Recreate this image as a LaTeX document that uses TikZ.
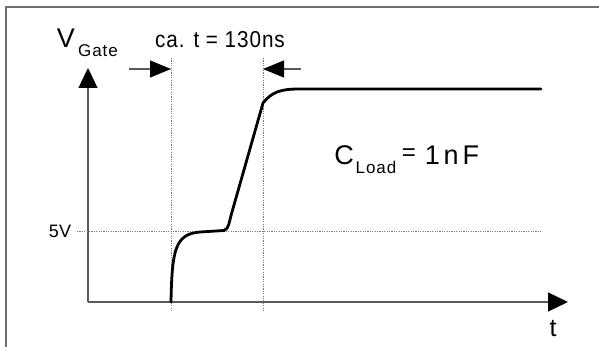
\documentclass[tikz,border=0pt]{standalone}
\usepackage{fontspec}
\setmainfont{Liberation Sans}
\usetikzlibrary{arrows.meta}
\definecolor{framegray}{RGB}{110,110,110}
\definecolor{axisgray}{RGB}{90,90,90}
\definecolor{dotgray}{RGB}{120,120,120}
\newcommand{\fs}[1]{\fontsize{#1}{#1}\selectfont}
\tikzset{
  frameline/.style={draw=framegray, line width=1.3pt},
  axisline/.style={draw=axisgray, line width=1.2pt, -{Triangle[length=20pt,width=19pt,color=black]}},
  dimarrow/.style={draw=axisgray, line width=1.1pt, -{Triangle[length=21pt,width=17pt,color=black]}},
  guide/.style={draw=dotgray, line width=0.9pt, dash pattern=on 1.2pt off 1.2pt},
  signal/.style={draw=black, line width=2.8pt, line join=round, line cap=round},
  lbl/.style={inner sep=0pt, anchor=center, text=black},
}
\begin{document}
\begin{tikzpicture}[x=1pt,y=-1pt]
\useasboundingbox (0,0) rectangle (599,347);
% frame
\coordinate (fbl) at (6,347);
\coordinate (ftl) at (6,7);
\coordinate (ftr) at (599,7);
\draw[frameline] (fbl) -- (ftl) -- (ftr);
% axes
\coordinate (O) at (88,302);
\coordinate (ytip) at (88,68);
\coordinate (xtip) at (568,302);
\draw[axisline] (O) -- (ytip);
\draw[axisline] (O) -- (xtip);
% guides
\coordinate (g1t) at (171,58);
\coordinate (g1b) at (171,311);
\coordinate (g2t) at (263,58);
\coordinate (g2b) at (263,311);
\coordinate (hl) at (77,231);
\coordinate (hr) at (541,231);
\draw[guide] (g1t) -- (g1b);
\draw[guide] (g2t) -- (g2b);
\draw[guide] (hl) -- (hr);
% dimension arrows
\coordinate (d1s) at (129,69);
\coordinate (d1e) at (171,69);
\coordinate (d2s) at (301,69);
\coordinate (d2e) at (263,69);
\draw[dimarrow] (d1s) -- (d1e);
\draw[dimarrow] (d2s) -- (d2e);
% signal
\coordinate (s0) at (171,302);
\coordinate (s1) at (200,232);
\coordinate (s2) at (224,230.5);
\coordinate (s3) at (232,212);
\coordinate (s4) at (263,103);
\coordinate (s5) at (300,89);
\coordinate (s6) at (541,89);
\draw[signal] (s0) .. controls (172,250) and (175,234) .. (s1) -- (s2)
  .. controls (229,229) and (229,222) .. (s3) -- (s4)
  .. controls (272,92) and (280,89) .. (s5) -- (s6);
% labels
\node[lbl] (V) at (66,38) {\fs{27}V};
\node[lbl] (gate) at (98,51) {\fs{17}\addfontfeatures{LetterSpace=6}Gate};
\node[lbl] (dur) at (220,40) {\fs{23}\addfontfeatures{FakeStretch=0.9,LetterSpace=4}ca. t = 130ns};
\node[lbl] (C) at (344,155) {\fs{27}C};
\node[lbl] (load) at (376,167) {\fs{17}\addfontfeatures{LetterSpace=6}Load};
\node[lbl] (eq) at (409,155) {\fs{24}=};
\node[lbl] (val) at (452,155) {\fs{27}\addfontfeatures{LetterSpace=14}1nF};
\node[lbl] (fv) at (60,231) {\fs{18}5V};
\node[lbl] (t) at (553,329) {\fs{25}t};
\end{tikzpicture}
\end{document}
